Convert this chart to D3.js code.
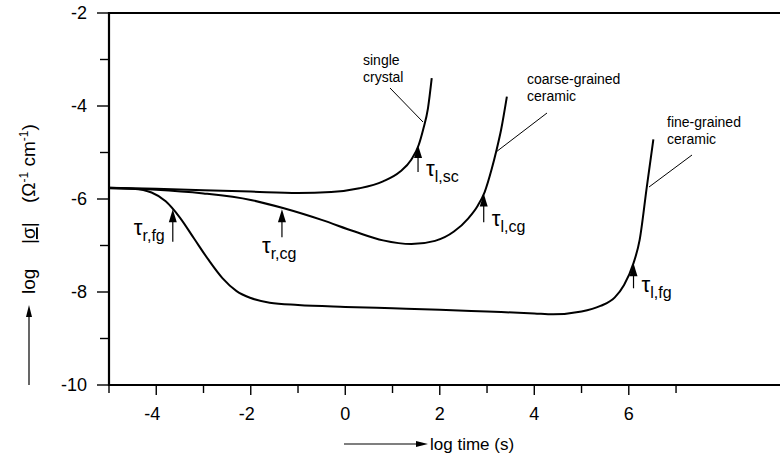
<!DOCTYPE html>
<html>
<head>
<meta charset="utf-8">
<script src="https://cdn.jsdelivr.net/npm/d3@7"></script>
<style>
  body { margin: 0; background: #fff; }
  svg text { font-family: "Liberation Sans", Arial, sans-serif; fill: #000; }
</style>
</head>
<body>
<svg id="chart" width="781" height="464"></svg>
<script>
// curves: log time (s) vs log |sigma|
var scX = [-5, -4, -3, -2, -1, -0.3, 0.3, 0.8, 1.15, 1.4, 1.55, 1.65, 1.75, 1.83];
var scY = [-5.76, -5.78, -5.81, -5.84, -5.87, -5.85, -5.77, -5.62, -5.42, -5.15, -4.85, -4.5, -4.05, -3.4];

var cgX = [-5, -4, -3, -2, -1.3, -0.5, 0.2, 0.8, 1.4, 1.9, 2.3, 2.6, 2.8, 2.95, 3.1, 3.2, 3.3, 3.42];
var cgY = [-5.77, -5.8, -5.88, -6.02, -6.2, -6.45, -6.7, -6.89, -6.97, -6.9, -6.7, -6.42, -6.15, -5.85, -5.35, -4.95, -4.5, -3.8];

var fgX = [-5, -4.5, -4.1, -3.8, -3.5, -3.2, -2.9, -2.6, -2.3, -2.0, -1.6, -1, 0, 1, 2, 3, 4, 4.4, 5, 5.4, 5.7, 5.9, 6.1, 6.23, 6.38, 6.52];
var fgY = [-5.76, -5.78, -5.86, -6.05, -6.4, -6.85, -7.3, -7.7, -7.98, -8.13, -8.23, -8.28, -8.32, -8.35, -8.38, -8.42, -8.46, -8.48, -8.42, -8.3, -8.12, -7.85, -7.38, -6.88, -5.75, -4.72];

// arrows marking the times: [x, tip, tail]
var arrowX = [1.54, 2.93, 6.1, -3.65, -1.34];
var arrowTip = [-4.84, -5.88, -7.38, -6.22, -6.22];
var arrowTail = [-5.42, -6.5, -7.92, -6.92, -6.82];
var arrowSub = ["l,sc", "l,cg", "l,fg", "r,fg", "r,cg"];

var xTicks = [-5, -4, -3, -2, -1, 0, 1, 2, 3, 4, 5, 6, 7];
var xLabels = [-4, -2, 0, 2, 4, 6];
var yTicks = [-2, -3, -4, -5, -6, -7, -8, -9, -10];
var yLabels = [-2, -4, -6, -8, -10];

var svg = d3.select("#chart");
var x = d3.scaleLinear().domain([-5, 9.2]).range([109, 780]);
var y = d3.scaleLinear().domain([-10, -2]).range([385, 13]);

// frame lines
svg.append("line").attr("x1", 109).attr("x2", 780).attr("y1", y(-2)).attr("y2", y(-2))
  .attr("stroke", "#000").attr("stroke-width", 2);
svg.append("line").attr("x1", 109).attr("x2", 780).attr("y1", y(-10)).attr("y2", y(-10))
  .attr("stroke", "#000").attr("stroke-width", 2.2);
svg.append("line").attr("x1", 109).attr("x2", 109).attr("y1", y(-2) - 1).attr("y2", y(-10) + 1)
  .attr("stroke", "#000").attr("stroke-width", 2.2);

// x ticks
svg.selectAll(".xt").data(xTicks).enter().append("line")
  .attr("x1", function(d) { return x(d); }).attr("x2", function(d) { return x(d); })
  .attr("y1", y(-10)).attr("y2", function(d) { return y(-10) + (d % 2 === 0 ? 10 : 8); })
  .attr("stroke", "#000").attr("stroke-width", 1.4);
svg.selectAll(".xl").data(xLabels).enter().append("text")
  .attr("x", function(d) { return x(d) - (d < 0 ? 4 : 0); }).attr("y", 420)
  .attr("text-anchor", "middle").attr("font-size", 18)
  .text(function(d) { return d < 0 ? "-" + (-d) : d; });

// y ticks
svg.selectAll(".yt").data(yTicks).enter().append("line")
  .attr("x1", function(d) { return 109 - (d % 2 === 0 ? 12 : 9); }).attr("x2", 109)
  .attr("y1", function(d) { return y(d); }).attr("y2", function(d) { return y(d); })
  .attr("stroke", "#000").attr("stroke-width", 1.4);
svg.selectAll(".yl").data(yLabels).enter().append("text")
  .attr("x", 87).attr("y", function(d) { return y(d) + 6; })
  .attr("text-anchor", "end").attr("font-size", 18)
  .text(function(d) { return "-" + (-d); });

// curves
var line = d3.line().curve(d3.curveMonotoneX)
  .x(function(d) { return x(d[0]); }).y(function(d) { return y(d[1]); });
[[scX, scY], [cgX, cgY], [fgX, fgY]].forEach(function(s) {
  svg.append("path").datum(d3.zip(s[0], s[1])).attr("d", line)
    .attr("fill", "none").attr("stroke", "#000").attr("stroke-width", 2);
});

// arrows with tau labels
arrowX.forEach(function(ax, i) {
  var px = x(ax), tip = y(arrowTip[i]), tail = y(arrowTail[i]);
  svg.append("line").attr("x1", px).attr("x2", px).attr("y1", tip + 10).attr("y2", tail)
    .attr("stroke", "#000").attr("stroke-width", 1.2);
  svg.append("path").attr("d", "M" + px + "," + tip + "L" + (px - 4) + "," + (tip + 13) + "L" + (px + 4) + "," + (tip + 13) + "Z")
    .attr("fill", "#000");
  var t = svg.append("text").attr("font-size", 22);
  if (i === 3) {
    t.attr("x", px - 39).attr("y", tip + 26);
  } else if (i === 4) {
    t.attr("x", px - 20).attr("y", tip + 44);
  } else {
    t.attr("x", px + 8).attr("y", tail + 4);
  }
  t.append("tspan").text("\u03c4");
  t.append("tspan").attr("dy", 6).attr("font-size", 16).text(arrowSub[i]);
});

// curve names with leader lines
var names = [
  { lines: ["single", "crystal"], tx: 363, ty: 65, from: [390, 88], to: [423, 122] },
  { lines: ["coarse-grained", "ceramic"], tx: 527, ty: 84, from: [547, 113], to: [496, 152] },
  { lines: ["fine-grained", "ceramic"], tx: 667, ty: 127, from: [692, 155], to: [649, 187] }
];
names.forEach(function(n) {
  var t = svg.append("text").attr("x", n.tx).attr("y", n.ty).attr("font-size", 14);
  n.lines.forEach(function(s, k) {
    t.append("tspan").attr("x", n.tx).attr("dy", k === 0 ? 0 : 17).text(s);
  });
  svg.append("line").attr("x1", n.from[0]).attr("y1", n.from[1]).attr("x2", n.to[0]).attr("y2", n.to[1])
    .attr("stroke", "#000").attr("stroke-width", 1);
});

// x axis title with arrow
svg.append("line").attr("x1", 344).attr("x2", 420).attr("y1", 444).attr("y2", 444)
  .attr("stroke", "#000").attr("stroke-width", 1.2);
svg.append("path").attr("d", "M428,444L416,441L416,447Z").attr("fill", "#000");
svg.append("text").attr("x", 430).attr("y", 450).attr("font-size", 17).text("log  time (s)");

// y axis title with arrow
svg.append("line").attr("x1", 29).attr("x2", 29).attr("y1", 385).attr("y2", 314)
  .attr("stroke", "#000").attr("stroke-width", 1.2);
svg.append("path").attr("d", "M29,305L26,317L32,317Z").attr("fill", "#000");
function yTitle(yPos) {
  return svg.append("text").attr("transform", "translate(35," + yPos + ") rotate(-90)").attr("font-size", 19);
}
yTitle(294).text("log");
var sg = yTitle(244);
sg.append("tspan").text("|");
sg.append("tspan").attr("text-decoration", "underline").text("\u03c3");
sg.append("tspan").text("|");
var un = yTitle(203);
un.append("tspan").text("(\u03a9");
un.append("tspan").attr("dy", -7).attr("font-size", 12).text("-1");
un.append("tspan").attr("dy", 7).text(" cm");
un.append("tspan").attr("dy", -7).attr("font-size", 12).text("-1");
un.append("tspan").attr("dy", 7).text(")");
</script>
</body>
</html>
